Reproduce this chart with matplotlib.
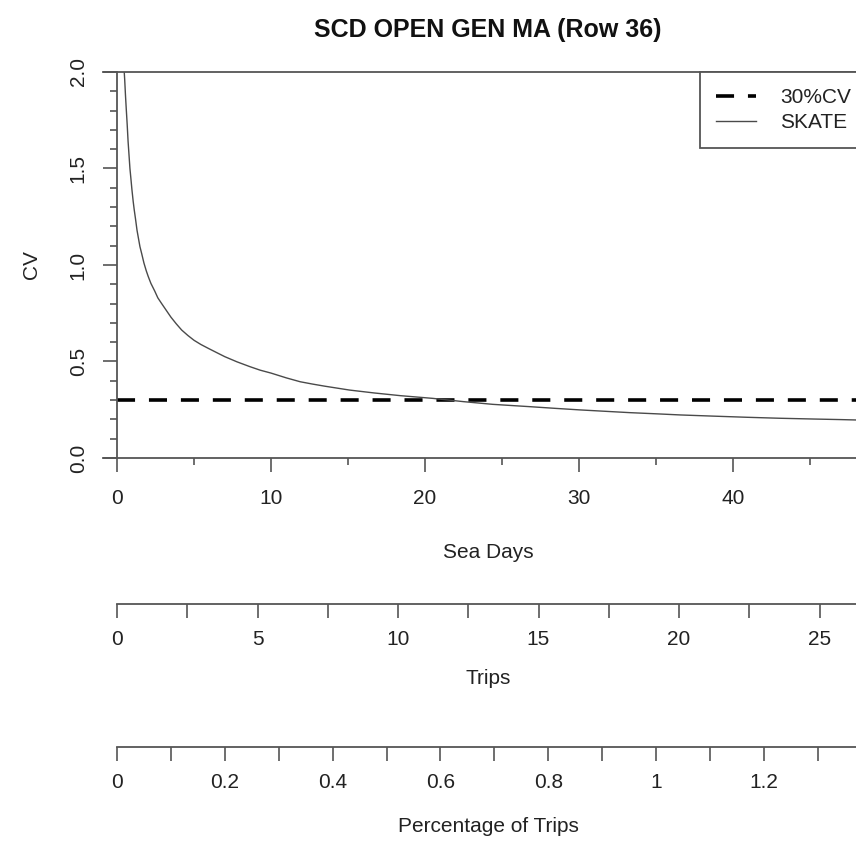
import matplotlib
matplotlib.use("Agg")
import matplotlib.pyplot as plt
from matplotlib.ticker import FixedLocator, MultipleLocator, FixedFormatter

# ---------------- data ----------------
sea_days = [0.47, 0.50, 0.55, 0.60, 0.66, 0.72, 0.78, 0.84, 0.90, 0.97, 1.05,
            1.12, 1.20, 1.30, 1.40, 1.49, 1.60, 1.75, 1.90, 2.03, 2.20, 2.45,
            2.65, 2.90, 3.20, 3.50, 3.85, 4.20, 4.60, 5.00, 5.45, 5.93, 6.50,
            7.00, 7.80, 8.64, 9.30, 10.0, 11.0, 11.9, 12.7, 13.5, 14.3, 15.1,
            16.7, 18.4, 20.5, 22.5, 24.4, 26.8, 28.5, 30.1, 31.7, 33.3, 35.0,
            36.6, 38.7, 40.9, 43.0, 45.2, 47.0, 49.0]
cv_skate = [2.00, 1.96, 1.88, 1.81, 1.73, 1.64, 1.57, 1.50, 1.45, 1.39, 1.33,
            1.285, 1.24, 1.18, 1.135, 1.095, 1.06, 1.01, 0.97, 0.94, 0.905, 0.865,
            0.83, 0.80, 0.765, 0.73, 0.695, 0.663, 0.635, 0.61, 0.588, 0.568, 0.545,
            0.525, 0.498, 0.473, 0.455, 0.44, 0.415, 0.395, 0.383, 0.372, 0.362, 0.352,
            0.337, 0.323, 0.309, 0.292, 0.278, 0.266, 0.257, 0.249, 0.242, 0.235, 0.229,
            0.223, 0.217, 0.211, 0.206, 0.202, 0.199, 0.195]
cv_target = 0.3
target_x = [0, 49.1]

title = "SCD OPEN GEN MA (Row 36)"
legend_labels = ["30%CV", "SKATE"]

y_major = [0.0, 0.5, 1.0, 1.5, 2.0]
x_major = [0, 10, 20, 30, 40]

trip_ticks = [0, 2.5, 5, 7.5, 10, 12.5, 15, 17.5, 20, 22.5, 25]
trip_labels = ["0", "", "5", "", "10", "", "15", "", "20", "", "25"]

pct_ticks = [0, 0.1, 0.2, 0.3, 0.4, 0.5, 0.6, 0.7, 0.8, 0.9, 1.0, 1.1, 1.2, 1.3, 1.4]
pct_labels = ["0", "", "0.2", "", "0.4", "", "0.6", "", "0.8", "", "1", "", "1.2", "", ""]

# ---------------- layout helpers ----------------
W, H = 856, 846
def fx(px):
    return px / W
def fy(py):
    return 1 - py / H

plt.rcParams['font.family'] = ['Liberation Sans', 'DejaVu Sans']
plt.rcParams['lines.scale_dashes'] = False
FS = 15
TXT = '#222222'
LINE = '#555555'

fig = plt.figure(figsize=(W / 100, H / 100), dpi=100)

# main axes: plot region from px 103 to 873 horizontally, 72 to 458 vertically
px_per_day = 15.4
AX_L, AX_R = 103, 873
ax = fig.add_axes([fx(AX_L), fy(458), (AX_R - AX_L) / W, (458 - 72) / H])
ax.set_xlim(-14 / px_per_day, (AX_R - 117) / px_per_day)
ax.set_ylim(0, 2)
ax.patch.set_alpha(0)

ax.spines['right'].set_visible(False)
for s in ['top', 'bottom', 'left']:
    ax.spines[s].set_color(LINE)
    ax.spines[s].set_linewidth(1.3)
ax.spines['left'].set_position(('data', 0))

ax.yaxis.set_major_locator(FixedLocator(y_major))
ax.yaxis.set_minor_locator(MultipleLocator(0.1))
ax.xaxis.set_major_locator(FixedLocator(x_major))
ax.xaxis.set_minor_locator(MultipleLocator(5))
ax.tick_params(axis='both', which='major', length=10, width=1.2, color=LINE,
               labelsize=FS, labelcolor=TXT)
ax.tick_params(axis='both', which='minor', length=5, width=1.2, color=LINE)
ax.tick_params(axis='x', which='major', pad=12)
ax.tick_params(axis='y', which='major', pad=11)
ax.set_yticklabels([f"{v:.1f}" for v in y_major], rotation=90, va='center')
ax.set_xticklabels([str(v) for v in x_major])

l1, = ax.plot(target_x, [cv_target, cv_target], color='black', lw=2.6,
              linestyle=(0, (13, 10)), dash_capstyle='butt')
l2, = ax.plot(sea_days, cv_skate, color='#4a4a4a', lw=1.0)

leg = ax.legend([l1, l2], legend_labels, loc='upper left',
                bbox_to_anchor=((700 - AX_L) / (AX_R - AX_L), 1.0),
                borderaxespad=0, fancybox=False, framealpha=1, edgecolor=LINE,
                fontsize=FS, handlelength=1.9, handletextpad=1.15, labelspacing=0.28,
                borderpad=0.78)
leg.get_frame().set_linewidth(1.3)
for t in leg.get_texts():
    t.set_color(TXT)

# ---------------- titles / axis labels ----------------
fig.text(fx(488), fy(30), title, ha='center', va='center', fontsize=18,
         fontweight='bold', color='#111111')
fig.text(fx(32), fy(265), "CV", ha='center', va='center', rotation=90,
         fontsize=FS, color=TXT)
fig.text(fx(488), fy(552), "Sea Days", ha='center', va='center', fontsize=FS, color=TXT)
fig.text(fx(488), fy(678), "Trips", ha='center', va='center', fontsize=FS, color=TXT)
fig.text(fx(488), fy(826), "Percentage of Trips", ha='center', va='center',
         fontsize=FS, color=TXT)

# ---------------- secondary scales ----------------
def secondary_axis(py_line, xmax, ticks, labels):
    a = fig.add_axes([fx(117), fy(py_line), (AX_R - 117) / W, 0.0001])
    a.set_xlim(0, xmax)
    a.patch.set_alpha(0)
    for s in ['top', 'left', 'right']:
        a.spines[s].set_visible(False)
    a.spines['bottom'].set_color(LINE)
    a.spines['bottom'].set_linewidth(1.3)
    a.set_yticks([])
    a.xaxis.set_major_locator(FixedLocator(ticks))
    a.xaxis.set_major_formatter(FixedFormatter(labels))
    a.tick_params(axis='x', which='major', length=10, width=1.2, color=LINE,
                  labelsize=FS, labelcolor=TXT, pad=9)
    return a

secondary_axis(604, (AX_R - 117) / 28.1, trip_ticks, trip_labels)
secondary_axis(747, (AX_R - 117) / 539.0, pct_ticks, pct_labels)

fig.savefig("out.png", dpi=100)
